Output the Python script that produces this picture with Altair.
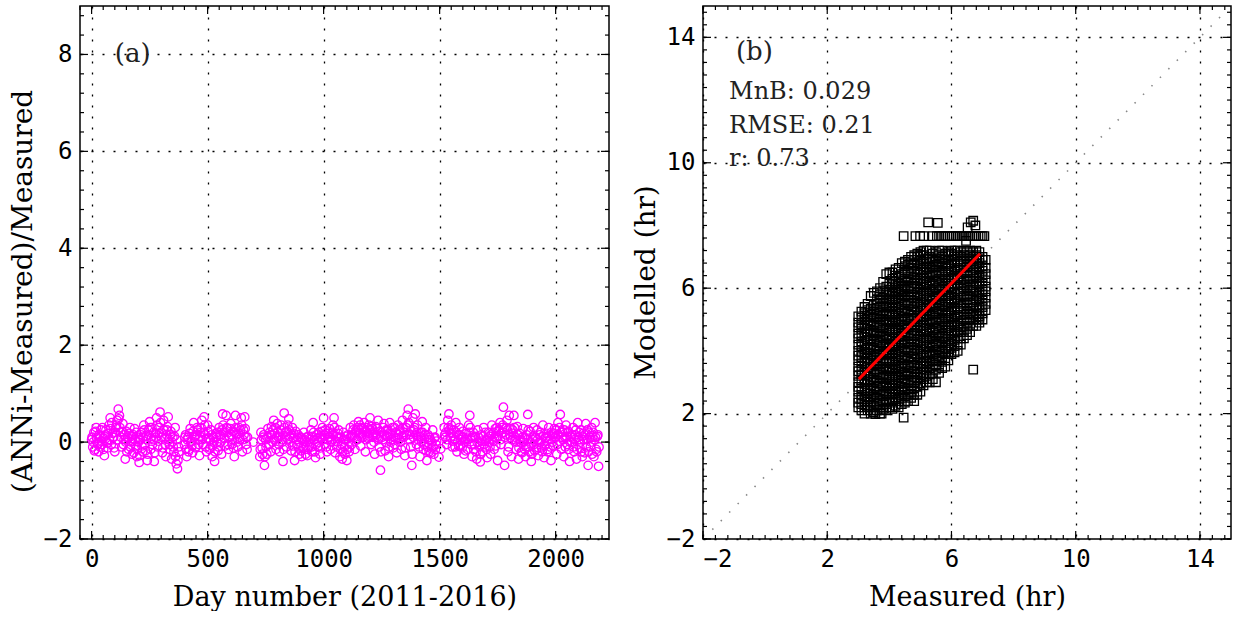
import altair as alt
import pandas as pd

# ---------------- Panel (a): relative error vs day number ----------------
seg1_days = list(range(0, 380, 5))
seg1_vals = [0.05, -0.1, 0.2, -0.15, 0.3, 0.0, -0.2, 0.12, 0.25, -0.05,
             0.08, -0.28, 0.15, 0.02, -0.12, 0.35, 0.5, -0.05, 0.18, 0.1,
             -0.2, 0.3, 0.45, 0.68, 0.55, 0.2, -0.1, 0.38, 0.05, -0.35,
             0.22, 0.1, -0.15, 0.3, 0.0, -0.25, 0.15, 0.28, -0.08, -0.3,
             0.1, -0.42, 0.05, 0.2, -0.2, 0.35, -0.05, 0.12, -0.38, 0.25,
             0.42, -0.15, 0.3, 0.05, -0.4, 0.18, 0.5, -0.1, 0.3, 0.62,
             0.2, -0.22, 0.45, 0.08, -0.3, 0.25, 0.52, -0.05, 0.15, -0.35,
             0.1, -0.2, 0.3, -0.45, -0.55, -0.1]
seg1b_days = list(range(2, 380, 5))
seg1b_vals = [0.1, 0.0, -0.18, 0.22, 0.08, -0.05, 0.15, -0.1, 0.02, 0.3,
              -0.15, 0.12, 0.25, -0.02, 0.18, 0.05, 0.28, 0.4, 0.1, -0.12,
              0.2, 0.35, 0.05, 0.48, 0.3, 0.1, 0.22, -0.05, 0.15, 0.0,
              -0.2, 0.08, 0.18, -0.1, 0.12, 0.02, -0.22, 0.05, 0.2, -0.15,
              0.0, -0.28, 0.15, -0.08, 0.1, 0.25, -0.18, 0.05, -0.25, 0.15,
              0.3, 0.08, -0.05, 0.2, -0.22, 0.1, 0.35, 0.02, 0.18, 0.4,
              0.1, -0.12, 0.25, -0.05, 0.15, 0.32, 0.05, -0.15, 0.22, 0.0,
              -0.1, 0.12, -0.3, 0.05, -0.38, -0.2]
seg2_days = list(range(400, 675, 5))
seg2_vals = [-0.05, 0.15, -0.3, 0.1, -0.15, 0.28, 0.02, -0.22, 0.4, 0.12,
             -0.1, 0.3, 0.05, -0.28, 0.2, 0.45, -0.05, 0.52, 0.15, -0.2,
             0.35, 0.08, -0.12, 0.25, -0.3, 0.1, -0.4, 0.18, 0.0, -0.18,
             0.3, 0.12, -0.25, 0.58, 0.2, -0.08, 0.55, 0.28, -0.15, 0.1,
             0.38, -0.05, 0.22, -0.3, 0.55, 0.15, -0.1, 0.3, 0.05, 0.5,
             -0.2, 0.25, 0.52, 0.1, -0.15]
seg2b_days = list(range(402, 675, 5))
seg2b_vals = [0.1, -0.15, 0.05, -0.2, 0.18, 0.0, -0.08, 0.22, 0.1, -0.12,
              0.15, 0.25, -0.05, 0.12, 0.3, 0.05, 0.2, 0.35, -0.1, 0.08,
              0.22, -0.15, 0.05, 0.15, -0.08, 0.0, -0.2, 0.1, 0.2, -0.1,
              0.15, 0.0, 0.25, 0.35, 0.08, 0.2, 0.3, -0.05, 0.12, 0.28,
              0.15, 0.05, -0.12, 0.2, 0.3, 0.0, 0.18, 0.1, 0.25, 0.35,
              0.05, 0.15, 0.28, -0.05, 0.1]
seg3_days = [697]
seg3_vals = [0.0]
seg4_days = list(range(725, 1490, 5))
seg4_vals = [-0.3, 0.2, -0.12, 0.1, -0.48, 0.05, -0.25, 0.28, -0.05, 0.15,
             0.32, 0.0, 0.45, 0.18, -0.15, 0.38, 0.1, -0.2, 0.25, 0.05,
             -0.4, 0.6, 0.2, -0.1, 0.35, 0.48, 0.12, -0.18, 0.3, 0.08,
             -0.38, 0.22, -0.05, 0.15, -0.25, 0.1, -0.3, 0.05, 0.2, -0.15,
             0.0, -0.28, 0.12, -0.08, 0.25, -0.2, 0.4, 0.05, -0.32, 0.15,
             -0.1, 0.2, -0.25, 0.08, 0.3, 0.5, -0.05, 0.18, -0.2, 0.1,
             0.28, -0.15, 0.05, 0.35, 0.5, -0.22, 0.12, 0.0, 0.25, -0.3,
             0.1, -0.35, 0.2, -0.1, 0.05, -0.38, 0.15, -0.2, 0.3, -0.05,
             0.12, 0.35, -0.15, 0.25, 0.05, 0.42, 0.18, -0.08, 0.3, 0.1,
             0.4, -0.2, 0.22, 0.08, 0.35, 0.5, -0.05, 0.28, 0.15, -0.25,
             0.32, 0.1, 0.45, -0.1, -0.58, 0.2, 0.05, 0.38, -0.18, 0.25,
             0.12, -0.3, 0.4, 0.0, 0.18, -0.12, 0.3, 0.08, -0.22, 0.35,
             0.05, 0.22, -0.15, 0.45, 0.1, -0.28, 0.3, 0.55, 0.68, 0.15,
             -0.1, -0.48, 0.5, 0.25, 0.58, -0.05, 0.35, 0.12, -0.3, 0.2,
             0.42, -0.15, 0.08, 0.3, -0.38, 0.15, -0.2, 0.05, -0.14, 0.25,
             -0.25, 0.1, -0.05]
seg4b_days = list(range(727, 1490, 5))
seg4b_vals = [-0.15, 0.05, -0.25, 0.15, -0.3, -0.1, 0.1, -0.05, 0.2, -0.2,
              0.15, 0.25, 0.05, 0.3, 0.08, 0.2, -0.05, 0.12, 0.35, 0.0,
              -0.15, 0.3, 0.1, 0.22, 0.05, 0.25, 0.0, 0.15, -0.08, 0.18,
              -0.2, 0.05, 0.1, -0.12, 0.0, -0.18, 0.08, -0.1, 0.02, -0.25,
              0.1, -0.15, 0.0, 0.05, -0.1, 0.12, 0.2, -0.2, -0.05, 0.08,
              0.0, 0.1, -0.12, 0.22, 0.05, 0.15, 0.25, -0.1, 0.05, 0.18,
              0.1, 0.0, 0.2, 0.15, 0.3, 0.02, -0.1, 0.18, 0.08, -0.15,
              -0.05, -0.2, 0.05, -0.25, 0.12, -0.15, 0.0, -0.1, 0.1, 0.15,
              0.25, 0.1, 0.2, 0.05, 0.3, 0.2, 0.35, 0.1, 0.15, 0.28,
              0.2, 0.05, 0.3, 0.18, 0.12, 0.25, 0.32, 0.1, 0.0, 0.2,
              0.15, 0.28, 0.05, 0.22, -0.2, 0.1, 0.3, 0.15, 0.0, 0.12,
              0.25, -0.1, 0.18, 0.05, 0.3, 0.1, -0.05, 0.2, 0.08, 0.15,
              0.25, 0.0, 0.12, 0.3, 0.2, -0.12, 0.15, 0.35, 0.4, 0.05,
              0.22, -0.25, 0.1, 0.3, 0.15, 0.2, 0.05, -0.1, 0.12, 0.0,
              0.2, -0.05, 0.15, -0.18, -0.1, 0.05, 0.1, -0.22, 0.0, -0.1,
              0.08, -0.15, 0.02]
seg5_days = [1497, 1505]
seg5_vals = [-0.31, -0.14]
seg6_days = list(range(1520, 2190, 5))
seg6_vals = [0.3, 0.1, -0.05, 0.45, 0.58, 0.2, 0.35, -0.1, 0.25, 0.05,
             0.4, -0.2, 0.15, 0.3, -0.08, 0.1, 0.22, -0.25, 0.05, 0.18,
             -0.15, 0.35, 0.55, 0.08, -0.3, 0.2, -0.05, 0.1, -0.35, 0.25,
             0.0, -0.41, 0.15, -0.2, 0.3, -0.1, 0.05, -0.32, 0.2, 0.12,
             -0.25, 0.35, 0.02, -0.15, 0.28, 0.1, -0.38, 0.22, 0.4, -0.05,
             0.3, 0.72, -0.48, 0.15, 0.45, -0.2, 0.55, 0.1, -0.3, 0.25,
             0.55, 0.05, -0.15, 0.32, -0.35, 0.18, 0.0, -0.22, 0.28, 0.08,
             -0.3, 0.15, 0.57, -0.1, 0.22, -0.4, 0.05, 0.3, -0.18, 0.1,
             0.25, -0.28, 0.0, 0.2, -0.12, 0.35, -0.32, 0.08, 0.18, -0.2,
             0.3, 0.05, -0.38, 0.15, -0.08, 0.28, 0.1, -0.25, 0.4, 0.02,
             0.57, -0.15, 0.2, -0.3, 0.1, 0.35, -0.05, 0.22, -0.4, 0.12,
             0.0, 0.3, -0.2, 0.15, -0.35, 0.4, 0.05, -0.12, 0.25, -0.3,
             0.18, -0.22, 0.38, 0.05, -0.48, 0.2, -0.1, 0.3, 0.1, -0.3,
             0.4, -0.15, 0.12, -0.5]
seg6b_days = list(range(1522, 2190, 5))
seg6b_vals = [0.15, 0.2, 0.05, 0.3, 0.25, 0.1, 0.18, 0.02, 0.12, -0.1,
              0.2, 0.0, -0.08, 0.15, 0.05, -0.12, 0.1, 0.0, -0.18, 0.08,
              0.05, 0.2, 0.3, -0.05, 0.1, -0.15, 0.12, -0.2, 0.0, 0.1,
              -0.1, -0.25, 0.02, 0.12, -0.05, 0.2, -0.15, 0.08, 0.0, -0.1,
              0.15, 0.05, 0.2, 0.1, -0.08, 0.3, 0.12, 0.25, 0.05, 0.18,
              0.35, 0.2, 0.1, 0.3, 0.25, -0.1, 0.15, 0.28, 0.05, 0.18,
              0.3, 0.1, 0.0, 0.15, -0.12, 0.05, -0.2, 0.1, 0.0, -0.15,
              -0.1, 0.05, 0.25, -0.2, 0.0, -0.25, 0.1, -0.05, 0.08, -0.15,
              0.05, -0.12, 0.15, 0.0, -0.2, 0.12, -0.08, 0.1, 0.02, -0.15,
              0.12, -0.1, 0.2, 0.0, 0.18, 0.1, 0.25, -0.05, 0.15, 0.3,
              0.2, 0.1, 0.05, 0.25, -0.1, 0.12, 0.2, -0.15, 0.0, 0.1,
              0.15, -0.1, 0.05, 0.25, -0.15, 0.1, 0.2, 0.0, -0.2, 0.12,
              0.05, 0.15, -0.1, 0.25, -0.2, 0.1, 0.0, -0.25, 0.2, 0.05,
              0.1, -0.2, 0.15, -0.1]

a_x_ticks = [0, 500, 1000, 1500, 2000]
a_y_ticks = [-2, 0, 2, 4, 6, 8]
a_x_minor = list(range(-50, 2230, 50))
a_y_minor = [round(-2 + 0.4 * i, 1) for i in range(28)]

# ---------------- Panel (b): modelled vs measured ----------------
b_cols = [3.0, 3.1, 3.2, 3.3, 3.4, 3.5, 3.6, 3.7, 3.8, 3.9, 4.0, 4.1, 4.2, 4.3,
          4.4, 4.5, 4.6, 4.7, 4.8, 4.9, 5.0, 5.1, 5.2, 5.3, 5.4, 5.5, 5.6, 5.7,
          5.8, 5.9, 6.0, 6.1, 6.2, 6.3, 6.4, 6.5, 6.6, 6.7, 6.8, 6.9, 7.0, 7.1]
b_col_vals = [
    [2.2, 2.35, 2.5, 2.7, 2.85, 3.0, 3.2, 3.35, 3.5, 3.7, 3.85, 4.0, 4.2, 4.4, 4.55, 4.75, 4.9, 5.1],
    [2.1, 2.3, 2.45, 2.6, 2.8, 3.05, 3.25, 3.4, 3.6, 3.8, 3.95, 4.15, 4.3, 4.5, 4.7, 4.85, 5.05, 5.25],
    [2.0, 2.2, 2.4, 2.55, 2.75, 2.95, 3.1, 3.3, 3.5, 3.65, 3.9, 4.05, 4.25, 4.45, 4.6, 4.8, 5.0, 5.2, 5.4],
    [2.1, 2.25, 2.45, 2.65, 2.8, 3.0, 3.2, 3.45, 3.6, 3.75, 3.95, 4.1, 4.35, 4.55, 4.7, 4.9, 5.1, 5.3, 5.5],
    [2.0, 2.2, 2.35, 2.55, 2.75, 2.9, 3.1, 3.3, 3.5, 3.7, 3.85, 4.05, 4.2, 4.4, 4.6, 4.8, 4.95, 5.15, 5.35, 5.75],
    [2.05, 2.25, 2.4, 2.6, 2.8, 3.0, 3.15, 3.35, 3.55, 3.7, 3.9, 4.1, 4.3, 4.5, 4.65, 4.85, 5.05, 5.25, 5.45, 5.85],
    [2.1, 2.3, 2.5, 2.7, 2.85, 3.05, 3.25, 3.4, 3.6, 3.8, 4.0, 4.15, 4.35, 4.55, 4.75, 4.9, 5.1, 5.3, 5.5, 5.65, 5.9],
    [2.0, 2.2, 2.4, 2.6, 2.75, 2.95, 3.15, 3.3, 3.5, 3.7, 3.9, 4.05, 4.25, 4.45, 4.6, 4.8, 5.0, 5.2, 5.4, 5.6, 5.8, 6.0],
    [2.15, 2.35, 2.55, 2.7, 2.9, 3.1, 3.25, 3.45, 3.65, 3.85, 4.0, 4.2, 4.4, 4.55, 4.75, 4.95, 5.15, 5.3, 5.5, 5.7, 5.9, 6.2],
    [2.1, 2.3, 2.45, 2.65, 2.85, 3.0, 3.2, 3.4, 3.6, 3.75, 3.95, 4.15, 4.35, 4.5, 4.7, 4.9, 5.1, 5.25, 5.45, 5.65, 5.85, 6.05, 6.45],
    [2.2, 2.4, 2.6, 2.8, 2.95, 3.15, 3.35, 3.5, 3.7, 3.9, 4.1, 4.25, 4.45, 4.65, 4.85, 5.0, 5.2, 5.4, 5.6, 5.8, 5.95, 6.15, 6.5],
    [2.15, 2.35, 2.5, 2.7, 2.9, 3.1, 3.3, 3.45, 3.65, 3.85, 4.05, 4.2, 4.4, 4.6, 4.8, 4.95, 5.15, 5.35, 5.55, 5.75, 5.9, 6.1, 6.3, 6.5],
    [2.25, 2.45, 2.65, 2.8, 3.0, 3.2, 3.4, 3.55, 3.75, 3.95, 4.15, 4.3, 4.5, 4.7, 4.9, 5.05, 5.25, 5.45, 5.65, 5.85, 6.0, 6.2, 6.4, 6.6],
    [2.2, 2.4, 2.6, 2.75, 2.95, 3.15, 3.35, 3.5, 3.7, 3.9, 4.1, 4.25, 4.45, 4.65, 4.85, 5.0, 5.2, 5.4, 5.6, 5.8, 5.95, 6.15, 6.35, 6.65],
    [2.3, 2.5, 2.7, 2.85, 3.05, 3.25, 3.45, 3.6, 3.8, 4.0, 4.2, 4.35, 4.55, 4.75, 4.95, 5.1, 5.3, 5.5, 5.7, 5.9, 6.05, 6.25, 6.45, 6.8],
    [2.35, 2.55, 2.75, 2.95, 3.1, 3.3, 3.5, 3.7, 3.85, 4.05, 4.25, 4.45, 4.6, 4.8, 5.0, 5.2, 5.35, 5.55, 5.75, 5.95, 6.1, 6.3, 6.5, 6.7, 6.85],
    [2.4, 2.6, 2.8, 3.0, 3.2, 3.35, 3.55, 3.75, 3.95, 4.1, 4.3, 4.5, 4.7, 4.85, 5.05, 5.25, 5.45, 5.6, 5.8, 6.0, 6.2, 6.35, 6.55, 6.75, 6.9],
    [2.5, 2.7, 2.9, 3.05, 3.25, 3.45, 3.65, 3.8, 4.0, 4.2, 4.4, 4.55, 4.75, 4.95, 5.15, 5.3, 5.5, 5.7, 5.9, 6.05, 6.25, 6.45, 6.65, 6.8, 7.0],
    [2.4, 2.6, 2.8, 3.0, 3.15, 3.35, 3.55, 3.75, 3.9, 4.1, 4.3, 4.5, 4.65, 4.85, 5.05, 5.25, 5.4, 5.6, 5.8, 6.0, 6.15, 6.35, 6.55, 6.75, 6.9, 7.05],
    [2.6, 2.85, 3.05, 3.25, 3.45, 3.6, 3.8, 4.0, 4.2, 4.35, 4.55, 4.75, 4.95, 5.1, 5.3, 5.5, 5.7, 5.85, 6.05, 6.25, 6.45, 6.6, 6.8, 7.0, 7.1],
    [2.7, 2.95, 3.15, 3.3, 3.5, 3.7, 3.9, 4.05, 4.25, 4.45, 4.65, 4.8, 5.0, 5.2, 5.4, 5.55, 5.75, 5.95, 6.15, 6.3, 6.5, 6.7, 6.9, 7.05, 7.15],
    [2.9, 3.1, 3.3, 3.5, 3.65, 3.85, 4.05, 4.25, 4.4, 4.6, 4.8, 5.0, 5.15, 5.35, 5.55, 5.75, 5.9, 6.1, 6.3, 6.5, 6.65, 6.85, 7.05, 7.2],
    [3.0, 3.2, 3.4, 3.6, 3.8, 3.95, 4.15, 4.35, 4.55, 4.7, 4.9, 5.1, 5.3, 5.45, 5.65, 5.85, 6.05, 6.2, 6.4, 6.6, 6.8, 6.95, 7.2],
    [3.0, 3.25, 3.45, 3.65, 3.85, 4.0, 4.2, 4.4, 4.6, 4.75, 4.95, 5.15, 5.35, 5.5, 5.7, 5.9, 6.1, 6.25, 6.45, 6.65, 6.85, 7.0, 7.2],
    [3.1, 3.3, 3.5, 3.7, 3.9, 4.1, 4.25, 4.45, 4.65, 4.85, 5.0, 5.2, 5.4, 5.6, 5.75, 5.95, 6.15, 6.35, 6.5, 6.7, 6.9, 7.1],
    [3.0, 3.4, 3.55, 3.75, 3.95, 4.15, 4.3, 4.5, 4.7, 4.9, 5.05, 5.25, 5.45, 5.65, 5.8, 6.0, 6.2, 6.4, 6.55, 6.75, 6.95, 7.15],
    [3.3, 3.5, 3.7, 3.85, 4.05, 4.25, 4.45, 4.6, 4.8, 5.0, 5.2, 5.35, 5.55, 5.75, 5.95, 6.1, 6.3, 6.5, 6.7, 6.85, 7.05, 7.2],
    [3.45, 3.65, 3.8, 4.0, 4.2, 4.4, 4.55, 4.75, 4.95, 5.15, 5.3, 5.5, 5.7, 5.9, 6.05, 6.25, 6.45, 6.65, 6.8, 7.0, 7.2],
    [3.5, 3.7, 3.9, 4.1, 4.3, 4.45, 4.65, 4.85, 5.05, 5.2, 5.4, 5.6, 5.8, 5.95, 6.15, 6.35, 6.55, 6.7, 6.9, 7.1],
    [3.7, 3.9, 4.05, 4.25, 4.45, 4.65, 4.8, 5.0, 5.2, 5.4, 5.55, 5.75, 5.95, 6.15, 6.3, 6.5, 6.7, 6.9, 7.05, 7.15],
    [3.9, 4.1, 4.3, 4.5, 4.65, 4.85, 5.05, 5.25, 5.4, 5.6, 5.8, 6.0, 6.15, 6.35, 6.55, 6.75, 6.9, 7.1, 7.2],
    [3.95, 4.15, 4.35, 4.55, 4.75, 4.9, 5.1, 5.3, 5.5, 5.65, 5.85, 6.05, 6.25, 6.4, 6.6, 6.8, 7.0, 7.2],
    [4.0, 4.2, 4.4, 4.6, 4.8, 4.95, 5.15, 5.35, 5.55, 5.7, 5.9, 6.1, 6.3, 6.45, 6.65, 6.85, 7.05, 7.2],
    [4.2, 4.4, 4.6, 4.75, 4.95, 5.15, 5.35, 5.5, 5.7, 5.9, 6.1, 6.25, 6.45, 6.65, 6.85, 7.0, 7.15],
    [4.4, 4.6, 4.8, 5.0, 5.15, 5.35, 5.55, 5.75, 5.9, 6.1, 6.3, 6.5, 6.65, 6.85, 7.05, 7.2],
    [4.5, 4.7, 4.9, 5.05, 5.25, 5.45, 5.65, 5.8, 6.0, 6.2, 6.4, 6.55, 6.75, 6.95, 7.15],
    [4.6, 4.8, 5.0, 5.2, 5.35, 5.55, 5.75, 5.95, 6.1, 6.3, 6.5, 6.7, 6.85, 7.05, 7.2],
    [3.4, 4.8, 5.0, 5.15, 5.35, 5.55, 5.75, 5.9, 6.1, 6.3, 6.5, 6.65, 6.85, 7.0, 7.15],
    [4.8, 5.0, 5.2, 5.4, 5.6, 5.75, 5.95, 6.15, 6.35, 6.5, 6.7, 6.9, 7.05, 7.2],
    [4.9, 5.1, 5.3, 5.45, 5.65, 5.85, 6.05, 6.2, 6.4, 6.6, 6.8, 6.95, 7.15],
    [5.0, 5.2, 5.4, 5.6, 5.8, 5.95, 6.15, 6.35, 6.55, 6.7, 6.9, 7.0],
    [5.3, 5.5, 5.7, 5.9, 6.05, 6.25, 6.45, 6.65, 6.9],
]
band_measured = [4.46, 4.84, 4.99, 5.1, 5.4, 5.53, 5.6, 5.67, 5.74, 5.8, 5.87, 5.94,
                 6.0, 6.07, 6.14, 6.2, 6.27, 6.34, 6.4, 6.47, 6.54, 6.6, 6.67, 6.74,
                 6.8, 6.87, 6.94, 7.0, 7.06]
band_modelled = 7.66
extra_measured = [5.25, 5.56, 6.52, 6.62, 6.7, 6.77, 6.47, 4.46, 3.55, 3.75, 6.85]
extra_modelled = [8.1, 8.08, 7.94, 8.1, 8.15, 8.0, 7.51, 1.87, 1.98, 2.0, 5.0]

fit_measured = [3.02, 6.92]
fit_modelled = [3.1, 7.1]
one_to_one = [-1.7, 14.8]

b_ticks = [-2, 2, 6, 10, 14]
b_minor = [round(-2 + 0.4 * i, 1) for i in range(43)]

stats_labels = ["MnB: 0.029", "RMSE: 0.21", "r: 0.73"]

# ---------------- build data frames ----------------
df_a = pd.DataFrame({
    "day": (seg1_days + seg1b_days + seg2_days + seg2b_days + seg3_days
            + seg4_days + seg4b_days + seg5_days + seg6_days + seg6b_days),
    "ratio": (seg1_vals + seg1b_vals + seg2_vals + seg2b_vals + seg3_vals
              + seg4_vals + seg4b_vals + seg5_vals + seg6_vals + seg6b_vals),
})
rows = []
for xv, ys in zip(b_cols, b_col_vals):
    for yv in ys:
        rows.append((xv, yv))
for xv in band_measured:
    rows.append((xv, band_modelled))
for xv, yv in zip(extra_measured, extra_modelled):
    rows.append((xv, yv))
df_b = pd.DataFrame(rows, columns=["measured", "modelled"])

W1, H1 = 529, 533
W2, H2 = 528, 533
SERIF = "DejaVu Serif"
MONO = "DejaVu Sans Mono"

# shared scales and axes per panel (same axis object in every layer)
xs_a = alt.Scale(domain=[-50, 2230], nice=False, zero=False)
ys_a = alt.Scale(domain=[-2, 9], nice=False, zero=False)
xax_a = alt.Axis(values=a_x_ticks, format="d", title="Day number (2011-2016)",
                 titlePadding=13, titleFontSize=27)
yax_a = alt.Axis(values=a_y_ticks, format="d", title="(ANNi-Measured)/Measured",
                 titlePadding=6, titleY=285, titleFontSize=28)

xs_b = alt.Scale(domain=[-2, 15], nice=False, zero=False)
ys_b = alt.Scale(domain=[-2, 15], nice=False, zero=False)
xax_b = alt.Axis(values=b_ticks, format="d", title="Measured (hr)", titlePadding=13,
                 titleFontSize=27)
yax_b = alt.Axis(values=b_ticks, format="d", title="Modelled (hr)", titlePadding=6,
                 titleY=276, titleFontSize=28)


def inward_ticks(xvals, yvals, xs, ys, xax, yax, W, H, length):
    dx = pd.DataFrame({"v": xvals})
    dy = pd.DataFrame({"v": yvals})
    rule = dict(color="black", strokeWidth=1.2)
    bottom = alt.Chart(dx).mark_rule(**rule).encode(
        x=alt.X("v:Q", scale=xs, axis=xax), y=alt.value(H), y2=alt.value(H - length))
    top = alt.Chart(dx).mark_rule(**rule).encode(
        x=alt.X("v:Q", scale=xs, axis=xax), y=alt.value(0), y2=alt.value(length))
    left = alt.Chart(dy).mark_rule(**rule).encode(
        y=alt.Y("v:Q", scale=ys, axis=yax), x=alt.value(0), x2=alt.value(length))
    right = alt.Chart(dy).mark_rule(**rule).encode(
        y=alt.Y("v:Q", scale=ys, axis=yax), x=alt.value(W), x2=alt.value(W - length))
    return [bottom, top, left, right]


# ---- panel (a)
pts_a = alt.Chart(df_a).mark_point(shape="circle", filled=False, color="#ff00ff",
                                   size=72, strokeWidth=1.3, opacity=1).encode(
    x=alt.X("day:Q", scale=xs_a, axis=xax_a),
    y=alt.Y("ratio:Q", scale=ys_a, axis=yax_a),
)
label_a = alt.Chart(pd.DataFrame({"x": [100], "y": [8], "t": ["(a)"]})).mark_text(
    font=SERIF, fontSize=26, align="left", baseline="middle", color="#222").encode(
    x=alt.X("x:Q", scale=xs_a, axis=xax_a), y=alt.Y("y:Q", scale=ys_a, axis=yax_a), text="t:N")

left_chart = alt.layer(
    pts_a, label_a,
    *inward_ticks(a_x_minor, a_y_minor, xs_a, ys_a, xax_a, yax_a, W1, H1, 4),
    *inward_ticks(a_x_ticks, a_y_ticks, xs_a, ys_a, xax_a, yax_a, W1, H1, 8),
).properties(width=W1, height=H1)

# ---- panel (b)
diag = alt.Chart(pd.DataFrame({"m": one_to_one, "p": one_to_one})).mark_line(
    color="#888888", strokeWidth=1.6, strokeDash=[1.5, 10.5]).encode(
    x=alt.X("m:Q", scale=xs_b, axis=xax_b), y=alt.Y("p:Q", scale=ys_b, axis=yax_b))
pts_b = alt.Chart(df_b).mark_point(shape="square", filled=False, color="black",
                                   size=72, strokeWidth=1.3, opacity=1).encode(
    x=alt.X("measured:Q", scale=xs_b, axis=xax_b),
    y=alt.Y("modelled:Q", scale=ys_b, axis=yax_b),
)
fit = alt.Chart(pd.DataFrame({"m": fit_measured, "p": fit_modelled})).mark_line(
    color="#ff0000", strokeWidth=3).encode(
    x=alt.X("m:Q", scale=xs_b, axis=xax_b), y=alt.Y("p:Q", scale=ys_b, axis=yax_b))
label_b = alt.Chart(pd.DataFrame({"x": [-0.94], "y": [13.53], "t": ["(b)"]})).mark_text(
    font=SERIF, fontSize=26, align="left", baseline="middle", color="#222").encode(
    x=alt.X("x:Q", scale=xs_b, axis=xax_b), y=alt.Y("y:Q", scale=ys_b, axis=yax_b), text="t:N")
stats = alt.Chart(pd.DataFrame({"x": [-1.16, -1.16, -1.16], "y": [12.26, 11.17, 10.12],
                                "t": stats_labels})).mark_text(
    font=SERIF, fontSize=24, align="left", baseline="middle", color="#222").encode(
    x=alt.X("x:Q", scale=xs_b, axis=xax_b), y=alt.Y("y:Q", scale=ys_b, axis=yax_b), text="t:N")

right_chart = alt.layer(
    diag, pts_b, fit, label_b, stats,
    *inward_ticks(b_minor, b_minor, xs_b, ys_b, xax_b, yax_b, W2, H2, 4),
    *inward_ticks(b_ticks, b_ticks, xs_b, ys_b, xax_b, yax_b, W2, H2, 8),
).properties(width=W2, height=H2)

chart = alt.hconcat(left_chart, right_chart, spacing=20).properties(
    padding={"left": 8, "top": 4, "right": 5, "bottom": 0},
    background="white",
).configure_view(stroke="black", strokeWidth=1.5).configure_axis(
    labelFont=MONO, labelFontSize=24, labelColor="black", labelPadding=8,
    titleFont=SERIF, titleFontWeight="normal", titleColor="black",
    grid=True, gridColor="black", gridDash=[2, 9], gridWidth=1.3, gridOpacity=1,
    ticks=False, domain=False,
)

chart.save("out.html", embed_options={"renderer": "svg", "actions": False})
